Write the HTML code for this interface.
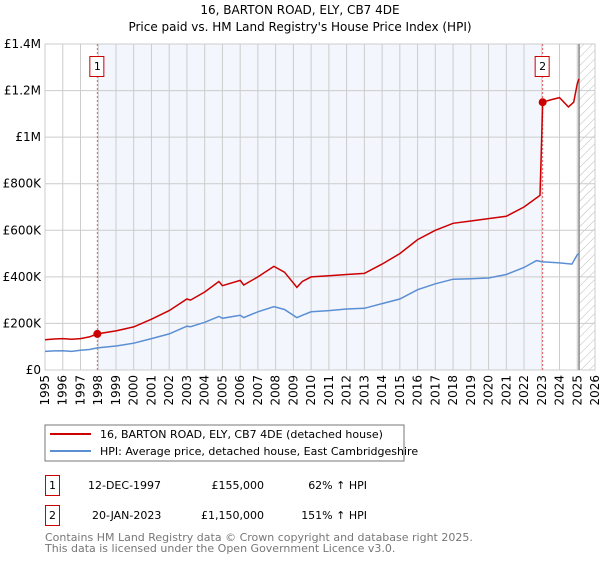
<!DOCTYPE html>
<html><head><meta charset="utf-8"><style>
body{margin:0;background:#fff;font-family:"DejaVu Sans","Liberation Sans",sans-serif;}
svg text{font-family:"DejaVu Sans","Liberation Sans",sans-serif;}
</style></head><body>
<svg id="c" width="600" height="560" xmlns="http://www.w3.org/2000/svg">
<defs><pattern id="hatch" width="6" height="6" patternUnits="userSpaceOnUse" patternTransform="rotate(45)"><line x1="0" y1="0" x2="0" y2="6" stroke="#bbb" stroke-width="1"/></pattern></defs>
<text x="300" y="14" text-anchor="middle" font-size="12">16, BARTON ROAD, ELY, CB7 4DE</text>
<text x="300" y="31" text-anchor="middle" font-size="12">Price paid vs. HM Land Registry's House Price Index (HPI)</text>
<g id="plot"></g>
<rect x="45" y="425" width="359" height="36" fill="#fff" stroke="#777"/>
<line x1="50" y1="434" x2="91" y2="434" stroke="#cc0000" stroke-width="2"/>
<text x="100" y="438" font-size="11">16, BARTON ROAD, ELY, CB7 4DE (detached house)</text>
<line x1="50" y1="451" x2="91" y2="451" stroke="#5b8fd4" stroke-width="2"/>
<text x="100" y="455" font-size="11">HPI: Average price, detached house, East Cambridgeshire</text>
<g>
<rect x="45.5" y="475.5" width="14" height="20" fill="none" stroke="#cc0000"/>
<text x="52.5" y="489" text-anchor="middle" font-size="11">1</text>
<text x="88" y="489" font-size="11">12-DEC-1997</text>
<text x="264" y="489" text-anchor="end" font-size="11">£155,000</text>
<text x="367" y="489" text-anchor="end" font-size="11">62% ↑ HPI</text></g>
<g>
<rect x="45.5" y="505.5" width="14" height="20" fill="none" stroke="#cc0000"/>
<text x="52.5" y="519" text-anchor="middle" font-size="11">2</text>
<text x="92" y="519" font-size="11">20-JAN-2023</text>
<text x="264" y="519" text-anchor="end" font-size="11">£1,150,000</text>
<text x="367" y="519" text-anchor="end" font-size="11">151% ↑ HPI</text></g>
<text x="45" y="541" font-size="11" fill="#777">Contains HM Land Registry data © Crown copyright and database right 2025.</text>
<text x="45" y="552" font-size="11" fill="#777">This data is licensed under the Open Government Licence v3.0.</text>
</svg>
<script>
const hpiYears=[1995,1995.5,1996,1996.5,1997,1997.5,1997.95,1999,2000,2001,2002,2003,2003.2,2004,2004.8,2005,2006,2006.2,2007,2007.9,2008.5,2009.2,2009.5,2010,2011,2012,2013,2014,2015,2016,2017,2018,2019,2020,2021,2022,2022.7,2023,2024,2024.7,2025,2025.1];
const hpiValues=[80,82,83,80,85,88,95,103,115,135,155,188,186,205,230,222,235,225,250,272,260,225,235,250,255,262,265,285,305,345,370,390,392,395,410,440,470,465,460,455,495,500];
const priceYears=[1995,1995.5,1996,1996.5,1997,1997.5,1997.95,1999,2000,2001,2002,2003,2003.2,2004,2004.8,2005,2006,2006.2,2007,2007.9,2008.5,2009.2,2009.5,2010,2011,2012,2013,2014,2015,2016,2017,2018,2019,2020,2021,2022,2022.9,2023.05,2023.5,2024,2024.5,2024.8,2025,2025.1];
const priceValues=[130,133,135,132,135,142,155,168,185,218,255,305,300,335,380,362,385,365,400,445,420,355,380,400,405,410,415,455,500,560,600,630,640,650,660,700,750,1150,1160,1170,1130,1150,1230,1250];
const saleYears=[1997.95,2023.05];
const saleValues=[155,1150];
const saleLabels=["1","2"];
const yTicks=[0,200,400,600,800,1000,1200,1400];
const yTickLabels=["£0","£200K","£400K","£600K","£800K","£1M","£1.2M","£1.4M"];
const xTicks=[1995,1996,1997,1998,1999,2000,2001,2002,2003,2004,2005,2006,2007,2008,2009,2010,2011,2012,2013,2014,2015,2016,2017,2018,2019,2020,2021,2022,2023,2024,2025,2026];
const X0=45,X1=595,Y0=370,Y1=44,XMIN=1995,XMAX=2026,YMAX=1400,DATAEND=2025.1;
const sx=v=>X0+(v-XMIN)/(XMAX-XMIN)*(X1-X0);
const sy=v=>Y0-v/YMAX*(Y0-Y1);
const NS="http://www.w3.org/2000/svg";
const g=document.getElementById('plot');
function mk(t,a,p){const e=document.createElementNS(NS,t);for(const k in a)e.setAttribute(k,a[k]);(p||g).appendChild(e);return e;}
let r=mk('rect',{x:sx(saleYears[0]),y:Y1,width:sx(saleYears[1])-sx(saleYears[0]),height:Y0-Y1,fill:'#f3f6fd'});


r=mk('rect',{x:sx(DATAEND),y:Y1,width:X1-sx(DATAEND),height:Y0-Y1,fill:'url(#hatch)'});


xTicks.forEach(t=>{const l=mk('line',{x1:sx(t),x2:sx(t),y1:Y1,y2:Y0,stroke:'#ccc'});


const x=sx(t),tx=mk('text',{x:x+4,y:Y0+5,'font-size':'12','text-anchor':'end',transform:`rotate(-90 ${x+4} ${Y0+5})`});
tx.textContent=t;

});
yTicks.forEach((t,i)=>{const l=mk('line',{x1:X0,x2:X1,y1:sy(t),y2:sy(t),stroke:'#ccc'});


const tx=mk('text',{x:X0-4,y:sy(t)+4,'font-size':'12','text-anchor':'end'});
tx.textContent=yTickLabels[i];

});
let b=mk('rect',{x:X0,y:Y1,width:X1-X0,height:Y0-Y1,fill:'none',stroke:'#ccc'});


let v=mk('line',{x1:sx(DATAEND),x2:sx(DATAEND),y1:Y1,y2:Y0,stroke:'#888','stroke-width':1.5});


saleYears.forEach((s,i)=>{const l=mk('line',{x1:sx(s),x2:sx(s),y1:Y1,y2:Y0,stroke:'#e06060','stroke-dasharray':'2,2'});


const bx=mk('rect',{x:sx(s)-7.5,y:56.5,width:14,height:20,fill:'#fff',stroke:'#cc0000'});


const tx=mk('text',{x:sx(s),y:70,'font-size':'11','text-anchor':'middle'});
tx.textContent=saleLabels[i];

});
function path(xs,ys){return xs.map((x,i)=>(i?'L':'M')+sx(x).toFixed(1)+','+sy(ys[i]).toFixed(1)).join('');}
let p=mk('path',{d:path(hpiYears,hpiValues),fill:'none',stroke:'#5b8fd4','stroke-width':1.5});


p=mk('path',{d:path(priceYears,priceValues),fill:'none',stroke:'#cc0000','stroke-width':1.5});


saleYears.forEach((s,i)=>{const c=mk('circle',{cx:sx(s),cy:sy(saleValues[i]),r:4,fill:'#cc0000'});

});
</script>
</body></html>
